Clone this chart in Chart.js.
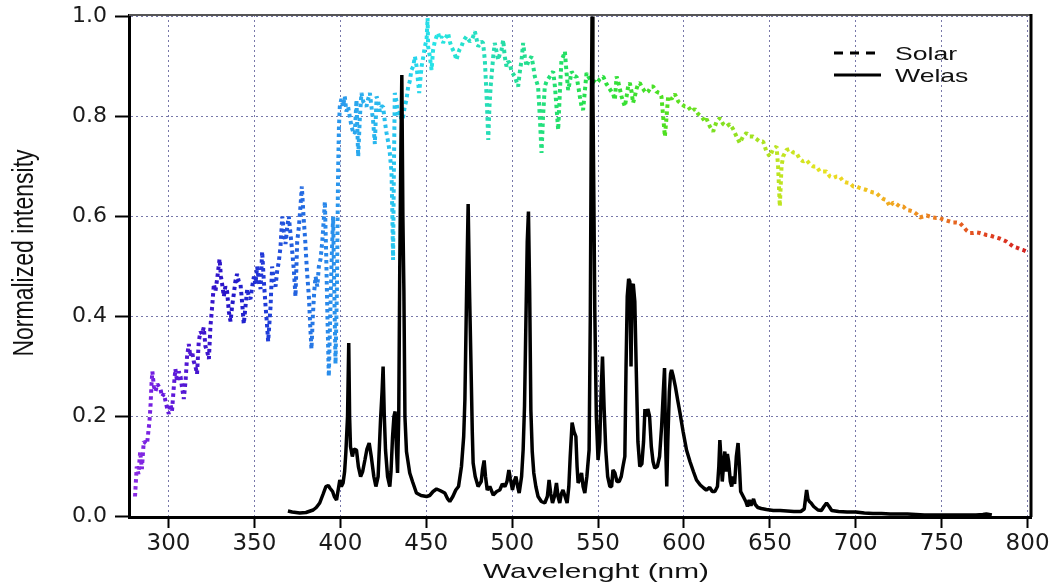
<!DOCTYPE html>
<html><head><meta charset="utf-8">
<script src="https://cdn.jsdelivr.net/npm/chart.js@4/dist/chart.umd.min.js"></script>
<style>html,body{margin:0;padding:0;background:#fff;}canvas{display:block;}</style>
</head><body>
<canvas id="c" width="1056" height="587"></canvas>
<script>
const seriesNames = ['Solar', 'Welas'];
const xTitle = 'Wavelenght (nm)';
const yTitle = 'Normalized intensity';
const xTicks = [300, 350, 400, 450, 500, 550, 600, 650, 700, 750, 800];
const yTicks = [0.0, 0.2, 0.4, 0.6, 0.8, 1.0];

const solarWl = [280.5,281.5,282.5,283.5,284.5,285.6,287.5,288.9,289.5,290.1,290.6,291.5,292.4,293.5,295.3,296.3,297.3,298.3,299.3,300.2,301.1,302.0,303.1,304.0,305.0,306.0,307.0,308.0,308.9,309.9,310.8,311.8,312.7,313.7,314.7,315.7,316.6,317.6,318.6,319.5,320.5,321.5,322.5,323.5,324.4,325.4,326.4,327.3,328.3,329.7,330.5,331.2,332.2,333.1,334.1,335.1,336.1,337.0,338.0,338.9,339.9,340.9,341.9,342.8,343.8,344.8,345.8,346.7,347.7,348.7,349.7,350.6,351.6,352.6,353.6,354.5,355.5,356.5,357.3,358.0,359.4,360.3,361.3,362.3,363.2,364.2,365.2,366.2,367.1,368.1,369.1,370.0,371.0,372.0,373.0,373.9,374.9,375.9,376.8,377.6,378.6,379.6,380.6,381.7,382.5,383.2,384.0,384.8,385.6,386.6,387.5,388.5,389.5,390.5,391.0,391.8,392.5,393.3,394.1,395.0,395.8,396.5,397.2,398.0,398.7,399.2,399.7,400.6,401.6,402.6,403.5,404.5,405.5,406.5,407.4,408.4,409.4,410.4,411.4,412.3,413.3,414.3,415.2,416.2,417.2,418.1,419.1,420.1,421.1,422.1,423.0,424.0,424.9,425.9,426.9,427.8,428.8,429.8,430.3,430.7,431.2,431.7,432.7,433.6,434.6,435.6,436.6,437.5,438.5,439.5,440.4,441.4,442.4,443.4,444.4,445.9,446.5,447.3,448.3,449.2,450.2,450.8,451.1,452.1,453.1,454.0,455.0,456.0,456.9,457.9,458.9,459.8,460.8,461.8,462.7,463.7,464.6,465.6,466.6,467.6,468.5,469.5,470.5,471.5,472.4,473.4,474.4,475.4,476.4,477.3,478.3,479.3,480.2,481.2,482.1,483.1,484.1,485.0,485.6,486.1,486.8,487.5,488.0,489.0,489.9,490.9,491.9,492.8,493.8,494.8,495.7,496.7,497.7,498.7,499.6,500.6,501.6,502.5,503.5,504.5,505.5,506.4,507.4,508.4,509.4,510.3,511.3,512.3,513.2,514.2,515.1,516.1,517.1,518.0,519.0,520.0,521.0,521.9,522.9,523.9,524.9,525.8,526.8,527.8,528.7,529.7,530.7,531.6,532.6,533.6,534.6,535.5,536.5,537.5,538.5,539.4,540.4,541.3,542.3,543.3,544.3,545.2,546.2,547.2,548.1,549.1,550.1,551.0,552.0,553.0,553.9,554.9,555.9,556.8,557.8,558.8,559.8,560.8,561.7,562.7,563.7,564.6,565.6,566.6,567.5,568.5,569.5,570.4,571.4,572.4,573.3,574.3,575.3,576.3,577.2,578.2,579.2,580.1,581.1,582.1,583.0,584.0,585.0,585.9,586.9,587.9,588.9,589.9,590.8,592.8,594.7,596.7,598.6,600.5,602.4,604.4,606.3,608.3,610.2,612.2,613.2,615.1,617.0,619.0,620.9,622.8,624.8,626.7,628.6,630.6,632.5,634.4,636.4,638.3,640.3,642.2,644.1,646.1,648.0,650.0,651.9,653.9,654.8,655.8,656.8,657.7,659.7,661.6,663.6,665.5,667.4,669.4,671.3,673.2,675.2,677.2,679.1,681.0,683.0,684.9,686.9,688.8,690.7,692.7,694.6,696.6,698.5,700.4,702.4,704.3,706.3,708.2,710.2,712.1,714.0,716.0,717.9,719.8,721.8,723.7,725.6,727.6,729.6,731.5,733.4,735.4,737.3,739.2,741.2,743.1,745.0,747.0,748.9,750.9,752.8,754.8,756.7,758.6,760.6,762.5,764.5,766.4,768.4,770.3,772.2,774.2,776.1,778.0,779.9,781.9,783.8,785.8,787.7,789.7,791.6,793.5,795.5,797.4,799.4,800.4];
const solarVal = [0.04,0.10,0.085,0.13,0.095,0.15,0.145,0.19,0.22,0.265,0.29,0.26,0.25,0.265,0.255,0.24,0.245,0.23,0.215,0.205,0.225,0.21,0.26,0.295,0.27,0.29,0.28,0.255,0.235,0.27,0.32,0.345,0.32,0.33,0.31,0.30,0.285,0.35,0.37,0.365,0.378,0.34,0.33,0.315,0.38,0.42,0.465,0.45,0.475,0.515,0.48,0.465,0.44,0.46,0.45,0.41,0.39,0.42,0.445,0.47,0.485,0.47,0.465,0.43,0.385,0.42,0.455,0.44,0.435,0.46,0.48,0.465,0.50,0.47,0.455,0.53,0.47,0.42,0.385,0.35,0.42,0.50,0.47,0.46,0.49,0.51,0.54,0.60,0.57,0.545,0.58,0.60,0.565,0.53,0.49,0.44,0.55,0.58,0.62,0.66,0.60,0.55,0.49,0.44,0.38,0.335,0.40,0.45,0.48,0.46,0.50,0.515,0.55,0.60,0.63,0.52,0.40,0.28,0.40,0.52,0.60,0.45,0.305,0.45,0.687,0.78,0.82,0.835,0.82,0.84,0.81,0.82,0.80,0.78,0.77,0.765,0.833,0.72,0.80,0.847,0.83,0.825,0.82,0.835,0.847,0.82,0.79,0.745,0.84,0.83,0.81,0.82,0.82,0.79,0.767,0.75,0.727,0.687,0.60,0.513,0.70,0.847,0.83,0.80,0.81,0.793,0.80,0.82,0.833,0.86,0.87,0.893,0.90,0.92,0.90,0.847,0.87,0.90,0.92,0.94,0.953,0.997,0.94,0.92,0.893,0.933,0.95,0.96,0.967,0.955,0.96,0.947,0.955,0.96,0.967,0.95,0.94,0.933,0.925,0.913,0.925,0.935,0.94,0.95,0.955,0.96,0.955,0.95,0.953,0.96,0.97,0.955,0.94,0.945,0.95,0.947,0.913,0.85,0.80,0.753,0.82,0.86,0.88,0.92,0.947,0.93,0.913,0.925,0.933,0.953,0.92,0.90,0.91,0.907,0.89,0.885,0.88,0.87,0.86,0.89,0.913,0.947,0.92,0.90,0.91,0.915,0.92,0.90,0.88,0.87,0.86,0.80,0.727,0.80,0.86,0.87,0.875,0.88,0.885,0.89,0.86,0.82,0.773,0.85,0.913,0.92,0.93,0.89,0.853,0.87,0.89,0.885,0.88,0.88,0.86,0.84,0.82,0.813,0.85,0.887,0.88,0.875,0.87,0.87,0.87,0.867,0.87,0.875,0.878,0.88,0.873,0.865,0.86,0.855,0.85,0.845,0.833,0.88,0.87,0.855,0.84,0.83,0.82,0.84,0.86,0.867,0.85,0.827,0.84,0.855,0.865,0.867,0.86,0.855,0.85,0.847,0.85,0.855,0.86,0.86,0.855,0.85,0.848,0.847,0.84,0.80,0.76,0.80,0.84,0.835,0.845,0.83,0.825,0.82,0.82,0.81,0.815,0.805,0.80,0.79,0.795,0.78,0.77,0.79,0.797,0.785,0.78,0.785,0.775,0.76,0.747,0.76,0.767,0.76,0.76,0.755,0.75,0.75,0.73,0.72,0.735,0.74,0.70,0.62,0.70,0.72,0.733,0.735,0.728,0.727,0.715,0.71,0.713,0.705,0.70,0.70,0.69,0.69,0.69,0.68,0.677,0.68,0.68,0.67,0.668,0.667,0.66,0.66,0.657,0.655,0.653,0.65,0.648,0.647,0.64,0.635,0.633,0.62,0.628,0.625,0.62,0.62,0.613,0.612,0.61,0.605,0.598,0.60,0.602,0.60,0.598,0.597,0.597,0.594,0.592,0.59,0.588,0.588,0.587,0.58,0.572,0.567,0.567,0.568,0.567,0.565,0.563,0.562,0.56,0.558,0.556,0.553,0.55,0.545,0.54,0.538,0.535,0.533,0.53,0.527];

const welasWl = [369.5,372,376.4,380,384.2,386,388,390,391.6,393,393.9,395.5,396.5,397.8,398.6,399.7,400.6,401.6,402.5,403.2,404.2,404.9,405.4,405.9,407,408,409.4,410.5,411.8,413,414.3,415.5,416.8,418,419.5,420.7,422,423.4,424.3,424.9,425.6,426.3,427.5,428.8,429.5,430.4,431.2,431.9,432.6,433.3,434.0,434.6,435.3,435.8,436.4,437.0,437.6,438.5,440.4,442,444.3,447,450.2,452,454,456,458,460.8,462.5,463.7,465.5,467.2,468.8,470.5,471.8,472.5,473.5,474.4,475.2,476,476.8,477.3,478.5,480.2,482,482.8,483.7,484.5,485.5,487,489,491,492.8,494.3,495.8,497,498.1,499,500.2,501.2,502.2,503.2,504.1,505.5,506.4,507.2,508,508.8,509.5,510.2,510.9,511.7,512.6,513.8,515.1,517,519,520.5,521.5,522.5,523.5,524.6,525.8,526.7,527.7,528.6,529.6,530.8,532,533,533.8,534.9,536,537.1,537.8,538.4,539.4,540.4,541.3,542.3,543.5,544.8,545.5,546.1,546.5,547.0,547.6,548.1,549,550,551,551.8,552.6,553.5,554.5,555.6,556.9,557.9,558.7,559.8,561,562.3,563.5,564.5,565.6,566.3,567,567.8,568.5,569.2,569.8,570.5,571.4,572.2,573.2,574.3,575.5,576.5,577.3,578.2,579,580,581,582,583,584.5,585.8,587,588,588.7,589.3,590,590.6,591.5,592.2,592.8,593.8,595,596.5,597.7,599.5,601.5,603.5,605.5,607.3,609.5,611.5,613,615,616.5,618,619.5,620.3,620.9,621.5,622.3,623,623.8,624.5,625.3,626,627,627.8,628.7,629.5,630.5,631.5,632.3,633,634.5,636,637,638,639,640.5,641.5,643,645,648,652,656,660,664,668,670,671.4,672.2,673,674,675.5,678,680,681.5,683,684.5,686,690,695,700,705,710,715,720,725,730,735,740,745,750,755,760,765,770,774,776,779.2];
const welasVal = [0.011,0.009,0.007,0.008,0.013,0.018,0.027,0.045,0.06,0.062,0.057,0.05,0.04,0.033,0.05,0.073,0.06,0.067,0.09,0.127,0.2,0.347,0.2,0.14,0.12,0.135,0.133,0.1,0.08,0.09,0.113,0.135,0.147,0.12,0.08,0.06,0.08,0.193,0.25,0.30,0.2,0.133,0.08,0.06,0.09,0.16,0.2,0.21,0.14,0.087,0.2,0.5,0.75,0.883,0.6,0.45,0.2,0.13,0.087,0.07,0.047,0.042,0.04,0.042,0.05,0.055,0.052,0.047,0.035,0.03,0.04,0.053,0.06,0.1,0.16,0.233,0.45,0.625,0.45,0.313,0.17,0.107,0.08,0.06,0.07,0.095,0.112,0.08,0.053,0.06,0.043,0.05,0.053,0.065,0.06,0.07,0.093,0.075,0.053,0.07,0.08,0.06,0.047,0.08,0.133,0.22,0.387,0.55,0.61,0.45,0.213,0.13,0.087,0.06,0.04,0.03,0.027,0.04,0.073,0.045,0.027,0.04,0.067,0.04,0.027,0.045,0.053,0.04,0.027,0.06,0.12,0.188,0.17,0.16,0.1,0.067,0.075,0.087,0.06,0.047,0.08,0.133,0.4,0.8,1.0,0.85,0.62,0.413,0.2,0.113,0.15,0.25,0.32,0.22,0.133,0.08,0.06,0.06,0.093,0.087,0.07,0.07,0.08,0.1,0.12,0.3,0.44,0.475,0.47,0.3,0.46,0.465,0.43,0.3,0.15,0.1,0.105,0.15,0.215,0.2,0.215,0.2,0.14,0.11,0.097,0.1,0.12,0.18,0.25,0.297,0.15,0.06,0.15,0.25,0.285,0.293,0.28,0.26,0.23,0.207,0.17,0.133,0.11,0.09,0.073,0.063,0.057,0.053,0.058,0.05,0.05,0.06,0.1,0.153,0.12,0.07,0.1,0.13,0.09,0.125,0.11,0.07,0.06,0.08,0.065,0.12,0.147,0.1,0.05,0.04,0.03,0.02,0.033,0.022,0.035,0.024,0.018,0.016,0.014,0.012,0.012,0.011,0.01,0.01,0.015,0.053,0.035,0.03,0.027,0.02,0.013,0.012,0.02,0.027,0.02,0.012,0.01,0.009,0.009,0.007,0.006,0.006,0.005,0.005,0.005,0.004,0.003,0.003,0.003,0.003,0.003,0.003,0.003,0.004,0.005,0.003];

// colour ramp for the solar curve (style, not data)
const rampStops = [[280,'#8a2be2'],[295,'#6a1ae0'],[315,'#4a16d0'],[335,'#2414c8'],[355,'#2038d8'],[375,'#2264e0'],[395,'#2a90ec'],[415,'#2ab0ee'],[440,'#26d0ee'],[455,'#26e4e6'],[490,'#26dcb0'],[520,'#22e078'],[550,'#28e040'],[590,'#50e020'],[625,'#88e020'],[655,'#bce420'],[680,'#e6e422'],[700,'#f0cc20'],[725,'#f0a020'],[750,'#e87420'],[775,'#e04420'],[800,'#d42020']];

function solarGradient(context) {
  const chart = context.chart;
  const area = chart.chartArea;
  const xs = chart.scales.x;
  if (!area || !xs) return '#3080e0';
  const x0 = xs.getPixelForValue(rampStops[0][0]);
  const x1 = xs.getPixelForValue(rampStops[rampStops.length - 1][0]);
  const g = chart.ctx.createLinearGradient(x0, 0, x1, 0);
  rampStops.forEach(s => {
    const p = (xs.getPixelForValue(s[0]) - x0) / (x1 - x0);
    g.addColorStop(Math.min(1, Math.max(0, p)), s[1]);
  });
  return g;
}

const GRID = 'rgba(105,105,160,0.9)';

const frame = {
  id: 'frame',
  afterDatasetsDraw(chart) {
    const {ctx, chartArea: a} = chart;
    ctx.save();
    ctx.strokeStyle = '#555';
    ctx.lineWidth = 2;
    ctx.beginPath(); ctx.moveTo(a.left, a.top); ctx.lineTo(a.right, a.top); ctx.stroke();
    ctx.strokeStyle = '#000';
    ctx.lineWidth = 3;
    ctx.beginPath(); ctx.moveTo(a.right, a.top - 1); ctx.lineTo(a.right, a.bottom); ctx.stroke();
    ctx.restore();
  }
};

const texts = {
  id: 'texts',
  afterDraw(chart) {
    const {ctx, chartArea: a} = chart;
    const ds = chart.data.datasets;
    ctx.save();
    ctx.fillStyle = '#111';
    // x title (horizontally stretched like the reference)
    ctx.save();
    ctx.translate(596, 578);
    ctx.scale(1.42, 1);
    ctx.font = '21px "Liberation Sans", Arial, sans-serif';
    ctx.textAlign = 'center';
    ctx.textBaseline = 'alphabetic';
    ctx.fillText(xTitle, 0, 0);
    ctx.restore();
    // y title
    ctx.save();
    ctx.translate(33, 253);
    ctx.rotate(-Math.PI / 2);
    ctx.scale(1, 1.25);
    ctx.font = '23px "Liberation Sans", Arial, sans-serif';
    ctx.textAlign = 'center';
    ctx.textBaseline = 'alphabetic';
    ctx.fillText(yTitle, 0, 0);
    ctx.restore();
    // legend
    [0, 1].forEach((i, k) => {
      const y = 53 + k * 22;
      ctx.strokeStyle = '#000';
      ctx.lineWidth = 3;
      ctx.setLineDash(ds[i].borderDash && ds[i].borderDash.length ? [9, 7] : []);
      ctx.beginPath(); ctx.moveTo(834, y); ctx.lineTo(881, y); ctx.stroke();
      ctx.setLineDash([]);
      ctx.save();
      ctx.translate(895, y + 7);
      ctx.scale(1.4, 1);
      ctx.font = '19px "Liberation Sans", Arial, sans-serif';
      ctx.textAlign = 'left';
      ctx.textBaseline = 'alphabetic';
      ctx.fillText(ds[i].label, 0, 0);
      ctx.restore();
    });
    ctx.restore();
  }
};

new Chart(document.getElementById('c'), {
  type: 'line',
  data: {
    datasets: [
      {
        label: seriesNames[0],
        data: solarWl.map((w, i) => ({x: w, y: solarVal[i]})),
        borderColor: solarGradient,
        borderWidth: 4,
        borderDash: [3.5, 3.5],
        borderCapStyle: 'butt',
        borderJoinStyle: 'bevel',
        pointRadius: 0,
        tension: 0,
        fill: false,
        order: 1
      },
      {
        label: seriesNames[1],
        data: welasWl.map((w, i) => ({x: w, y: welasVal[i]})),
        borderColor: '#000',
        borderWidth: 3.5,
        borderJoinStyle: 'bevel',
        pointRadius: 0,
        tension: 0,
        fill: false,
        order: 0
      }
    ]
  },
  options: {
    responsive: false,
    animation: false,
    devicePixelRatio: 1,
    layout: {padding: {left: 0, right: 25, top: 15, bottom: 0}},
    plugins: {legend: {display: false}, tooltip: {enabled: false}},
    scales: {
      x: {
        type: 'linear', min: 277, max: 802,
        afterBuildTicks: s => { s.ticks = xTicks.map(v => ({value: v})); },
        afterFit: s => { s.height = 70; },
        ticks: {font: {family: 'DejaVu Sans', size: 23}, color: '#1a1a1a', padding: 2, maxRotation: 0, autoSkip: false, callback: v => String(v)},
        grid: {color: GRID, lineWidth: 1, borderDash: [2, 3], tickLength: 11, tickColor: '#000', tickWidth: 2, tickBorderDash: []},
        border: {display: true, color: '#000', width: 3, dash: [2, 3]},
        title: {display: false}
      },
      y: {
        type: 'linear', min: -0.001, max: 1.003,
        afterBuildTicks: s => { s.ticks = yTicks.map(v => ({value: v})); },
        afterFit: s => { s.width = 129; },
        ticks: {font: {family: 'DejaVu Sans', size: 22, lineHeight: 0.5}, color: '#1a1a1a', padding: 8, callback: v => Number(v).toFixed(1)},
        grid: {color: GRID, lineWidth: 1, borderDash: [2, 3], tickLength: 14, tickColor: '#000', tickWidth: 2, tickBorderDash: []},
        border: {display: true, color: '#000', width: 3, dash: [2, 3]},
        title: {display: false}
      }
    }
  },
  plugins: [frame, texts]
});
</script>
</body></html>
